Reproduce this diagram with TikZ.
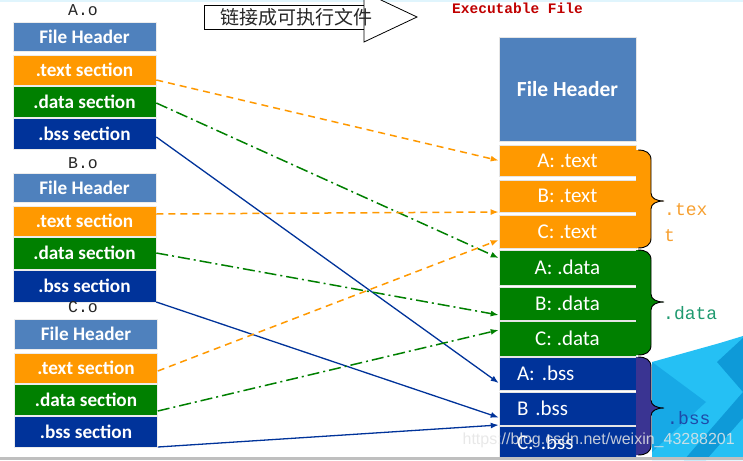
\documentclass[tikz,border=0pt]{standalone}
\usepackage{fontspec}
\setmainfont{Carlito}
\newfontfamily\monof{Liberation Mono}
\newfontfamily\cjkf{Noto Sans CJK SC}
\newfontfamily\wmf{Liberation Sans}
\usetikzlibrary{arrows.meta}
\definecolor{hdr}{HTML}{4F81BD}
\definecolor{org}{HTML}{FF9900}
\definecolor{grn}{HTML}{008000}
\definecolor{nav}{HTML}{00339A}
\definecolor{bssb}{HTML}{3A3492}
\definecolor{lorg}{HTML}{F7A030}
\definecolor{ldat}{HTML}{1F9A70}
\definecolor{lbss}{HTML}{1E4AA8}
\definecolor{exred}{HTML}{C00000}
\definecolor{deco1}{HTML}{25C0F4}
\definecolor{deco2}{HTML}{0E9AD8}
\definecolor{deco3}{HTML}{17A9E6}
\newcommand{\mybrace}[4]{%
  \fill[#4] (636,#1) -- (638,#1) .. controls (646,#1) and (651,#1+3) .. (651,#1+10)
    -- (651,#2-8) .. controls (651,#2-3) and (656,#2) .. (664,#2)
    .. controls (656,#2) and (651,#2+3) .. (651,#2+8)
    -- (651,#3-10) .. controls (651,#3-3) and (646,#3) .. (638,#3) -- (636,#3) -- cycle;
  \draw[black, line width=0.9pt] (638,#1) .. controls (646,#1) and (651,#1+3) .. (651,#1+10)
    -- (651,#2-8) .. controls (651,#2-3) and (656,#2) .. (664,#2)
    .. controls (656,#2) and (651,#2+3) .. (651,#2+8)
    -- (651,#3-10) .. controls (651,#3-3) and (646,#3) .. (638,#3);
}
\begin{document}
\begin{tikzpicture}[x=1pt,y=-1pt,
  lbox/.style={minimum width=143pt, inner sep=0pt, text=white,
    font=\fontsize{19.2}{20}\selectfont\bfseries, draw=white!85!gray, line width=0.6pt},
  rbox/.style={minimum width=137pt, inner sep=0pt, text=white,
    font=\fontsize{21}{22}\selectfont, draw=white!80!gray, line width=0.6pt},
  rbss/.style={rbox, text width=101pt, align=left},
  objlbl/.style={font=\monof\fontsize{16.5}{16.5}\selectfont, text=black!85, inner sep=0pt},
  seclbl/.style={anchor=base west, inner sep=0pt, font=\monof\fontsize{18}{18}\selectfont},
  odash/.style={org, line width=1.5pt, dash pattern=on 7pt off 5pt, -{Latex[length=8pt,width=6pt]}},
  gdash/.style={grn, line width=1.5pt, dash pattern=on 12pt off 4pt on 2pt off 4pt, -{Latex[length=8pt,width=6pt]}},
  nline/.style={nav, line width=1.3pt, -{Latex[length=8pt,width=6pt]}}
]
\useasboundingbox (0,0) rectangle (743,460);
\clip (0,0) rectangle (743,460);
\fill[white] (0,0) rectangle (743,460);
% background decoration
\fill[deco1] (652,362) -- (720,343) -- (743,336) -- (743,460) -- (652,460) -- cycle;
\fill[deco3] (652,362) -- (706,402) -- (652,452) -- cycle;
\fill[deco2] (717,362) -- (743,338) -- (743,392) -- cycle;
\fill[deco2] (684,460) -- (743,392) -- (743,418) -- (706,460) -- cycle;
\fill[cyan!12] (0,0) rectangle (743,1.8);
% title arrow
\draw[black, line width=0.8pt, fill=white] (204,5) rectangle (364,29);
\draw[black, line width=0.8pt, fill=white] (364,-8) -- (417,17) -- (364,42) -- cycle;
\node[anchor=west, inner sep=0pt, font=\cjkf\fontsize{19}{19}\selectfont, text=black!85] (ttl) at (220,17.5) {链接成可执行文件};
\node[anchor=west, inner sep=0pt, font=\monof\bfseries\fontsize{14.5}{15}\selectfont, text=exred] (exe) at (452,8.5) {Executable File};
% A.o
\node[objlbl] (Ao) at (83,10) {A.o};
\node[lbox, fill=hdr, minimum height=29pt] (Ah) at (84.5,36.5) {File Header};
\node[lbox, fill=org, minimum height=30pt] (At) at (84.5,70) {.text section};
\node[lbox, fill=grn, minimum height=31pt] (Ad) at (84.5,101.5) {.data section};
\node[lbox, fill=nav, minimum height=31pt] (Ab) at (84.5,133.5) {.bss section};
% B.o
\node[objlbl] (Bo) at (83,163) {B.o};
\node[lbox, fill=hdr, minimum height=29pt] (Bh) at (84.5,187.5) {File Header};
\node[lbox, fill=org, minimum height=30pt] (Bt) at (84.5,221) {.text section};
\node[lbox, fill=grn, minimum height=32pt] (Bd) at (84.5,253) {.data section};
\node[lbox, fill=nav, minimum height=32pt] (Bb) at (84.5,286) {.bss section};
% C.o
\node[objlbl] (Co) at (83,307.5) {C.o};
\node[lbox, fill=hdr, minimum height=30pt] (Ch) at (86,334) {File Header};
\node[lbox, fill=org, minimum height=30pt] (Ct) at (86,368) {.text section};
\node[lbox, fill=grn, minimum height=31pt] (Cd) at (86,399.5) {.data section};
\node[lbox, fill=nav, minimum height=31pt] (Cb) at (86,431.5) {.bss section};
% executable
\node[rbox, fill=hdr, minimum height=104pt, font=\fontsize{21.5}{22}\selectfont\bfseries] (Rh) at (567.5,89) {File Header};
\node[rbox, fill=org, minimum height=31pt] (RAt) at (567.5,160.5) {A: .text};
\node[rbox, fill=org, minimum height=32pt] (RBt) at (567.5,196) {B: .text};
\node[rbox, fill=org, minimum height=33pt] (RCt) at (567.5,231.5) {C: .text};
\node[rbox, fill=grn, minimum height=35pt] (RAd) at (567.5,267.5) {A: .data};
\node[rbox, fill=grn, minimum height=33pt] (RBd) at (567.5,303.5) {B: .data};
\node[rbox, fill=grn, minimum height=35pt] (RCd) at (567.5,338.5) {C: .data};
\node[rbss, fill=nav, minimum height=33pt] (RAb) at (567.5,373.5) {A: .bss};
\node[rbss, fill=nav, minimum height=33pt] (RBb) at (567.5,408.5) {B .bss};
\node[rbss, fill=nav, minimum height=32pt] (RCb) at (567.5,442.5) {C: .bss};
% braces
\mybrace{150}{201}{248}{org}
\mybrace{250}{302}{355}{grn}
\mybrace{357}{408}{455}{bssb}
\node[seclbl, text=lorg] (lt1) at (664,215) {.tex};
\node[seclbl, text=lorg] (lt2) at (664,241) {t};
\node[seclbl, text=ldat] (ld) at (663,319) {.data};
\node[seclbl, text=lbss] (lb) at (667,424) {.bss};
% connectors
\draw[odash] ([yshift=-10pt]At.east) -- (RAt.west);
\draw[gdash] ([yshift=-1.5pt]Ad.east) -- ([yshift=9.5pt]RAd.west);
\draw[nline] ([yshift=-3.5pt]Ab.east) -- ([yshift=-9.5pt]RAb.west);
\draw[odash] ([yshift=7pt]Bt.east) -- ([yshift=-16pt]RBt.west);
\draw[gdash] (Bd.east) -- ([yshift=-11.5pt]RBd.west);
\draw[nline] ([yshift=-16pt]Bb.east) -- ([yshift=-9pt]RBb.west);
\draw[odash] ([yshift=-3pt]Ct.east) -- ([yshift=-8.5pt]RCt.west);
\draw[gdash] ([yshift=-11.5pt]Cd.east) -- ([yshift=8.5pt]RCd.west);
\draw[nline] ([yshift=-15.5pt]Cb.east) -- ([yshift=17.5pt]RCb.west);
% bottom line and watermark
\fill[black!25] (0,457) rectangle (743,460);
\node[anchor=east, inner sep=0pt, font=\wmf\fontsize{16}{16}\selectfont, text=white!80!gray, opacity=0.85] (wm) at (735,440) {https://blog.csdn.net/weixin\_43288201};
\end{tikzpicture}
\end{document}
